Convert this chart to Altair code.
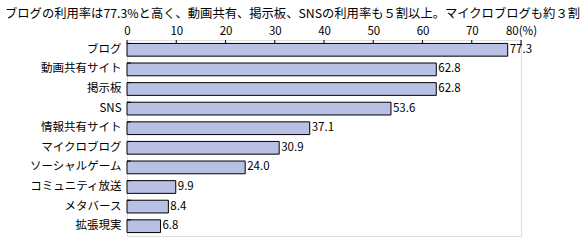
import altair as alt
import pandas as pd

categories = ["ブログ", "動画共有サイト", "掲示板", "SNS", "情報共有サイト",
              "マイクロブログ", "ソーシャルゲーム", "コミュニティ放送", "メタバース", "拡張現実"]
values = [77.3, 62.8, 62.8, 53.6, 37.1, 30.9, 24.0, 9.9, 8.4, 6.8]
tick_values = [0, 10, 20, 30, 40, 50, 60, 70, 80]
title_text = "ブログの利用率は77.3%と高く、動画共有、掲示板、SNSの利用率も５割以上。マイクロブログも約３割"

FONT = "Noto Sans CJK JP"
df = pd.DataFrame({"cat": categories, "val": values,
                   "label": [f"{v:.1f}" for v in values]})
ticks_df = pd.DataFrame({"t": tick_values})

xscale = alt.Scale(domain=[0, 80], nice=False, zero=True)
yscale = alt.Scale(domain=categories, paddingInner=0.35, paddingOuter=0.175)

bars = alt.Chart(df).mark_bar(color="#b8c1e3", stroke="black", strokeWidth=1).encode(
    x=alt.X("val:Q", scale=xscale,
            axis=alt.Axis(orient="top", values=tick_values, title=None, grid=False,
                          ticks=False, domain=False, labelFont=FONT, labelFontSize=11.5,
                          labelColor="black", labelPadding=4, labelFlush=False,
                          labelExpr="datum.value == 80 ? '80(%)' : datum.label")),
    y=alt.Y("cat:N", scale=yscale, sort=categories,
            axis=alt.Axis(title=None, ticks=False, domain=False, labelFont=FONT,
                          labelFontSize=11.5, labelColor="black", labelPadding=6)),
)

text = alt.Chart(df).mark_text(align="left", baseline="middle", dx=2, font=FONT,
                               fontSize=11.5, color="black").encode(
    x=alt.X("val:Q", scale=xscale),
    y=alt.Y("cat:N", scale=yscale, sort=categories),
    text="label:N",
)

xticks = alt.Chart(ticks_df).mark_rule(color="black", strokeWidth=1).encode(
    x=alt.X("t:Q", scale=xscale),
    y=alt.value(0),
    y2=alt.value(4),
)

yticks = alt.Chart(df).mark_rule(color="black", strokeWidth=1).encode(
    y=alt.Y("cat:N", scale=yscale, sort=categories, bandPosition=0),
    x=alt.value(0),
    x2=alt.value(4),
)

chart = alt.layer(bars, text, xticks, yticks).properties(
    width=394, height=196,
    title=alt.TitleParams(title_text, anchor="start", frame="group", dx=-122, offset=5,
                          font=FONT, fontSize=12.3, fontWeight="normal", color="black"),
    autosize=alt.AutoSizeParams(type="none"),
    padding={"left": 127, "top": 40, "right": 64, "bottom": 11},
).configure_view(stroke="black", strokeWidth=1).configure(background="white")

chart.save("out.html", embed_options={"renderer": "svg", "actions": False})
